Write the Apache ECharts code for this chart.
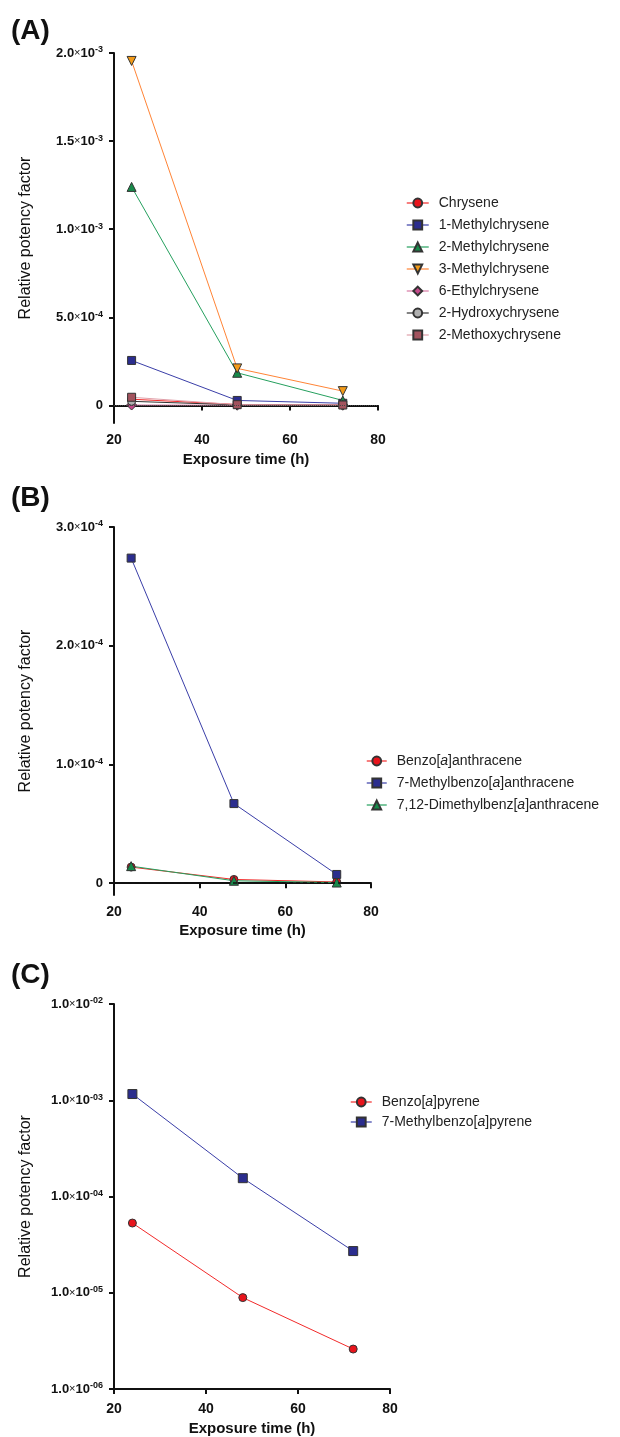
<!DOCTYPE html>
<html>
<head>
<meta charset="utf-8">
<title>Relative potency factor</title>
<script src="https://cdn.jsdelivr.net/npm/echarts@6/dist/echarts.min.js"></script>
<style>
    html, body {margin: 0; padding: 0; background: #fff;}
    #main_echarts {width: 620px; height: 1437px;}
</style>
</head>
<body>
<div id="main_echarts"></div>
<script>
// exposure times (h), shared by all panels
var hours = [24, 48, 72];

// (A) chrysenes
var namesA = ['Chrysene', '1-Methylchrysene', '2-Methylchrysene', '3-Methylchrysene',
    '6-Ethylchrysene', '2-Hydroxychrysene', '2-Methoxychrysene'];
var chrysene = [3.5e-5, 5e-6, 2e-6];
var methyl1Chrysene = [2.55e-4, 2.8e-5, 1.2e-5];
var methyl2Chrysene = [1.24e-3, 1.85e-4, 2.8e-5];
var methyl3Chrysene = [1.955e-3, 2.1e-4, 8.1e-5];
var ethyl6Chrysene = [2e-6, 1e-6, 1e-6];
var hydroxy2Chrysene = [2.3e-5, 3e-6, 1e-6];
var methoxy2Chrysene = [4.6e-5, 4e-6, 2e-6];
var yTicksA = [0, 5e-4, 1e-3, 1.5e-3, 2e-3];

// (B) benz[a]anthracenes
var namesB = ['Benzo[a]anthracene', '7-Methylbenzo[a]anthracene', '7,12-Dimethylbenz[a]anthracene'];
var benzAnthracene = [1.35e-5, 3.1e-6, 1e-6];
var methyl7BenzAnthracene = [2.738e-4, 6.7e-5, 7.3e-6];
var dimethylBenzAnthracene = [1.43e-5, 2e-6, 5e-7];
var yTicksB = [0, 1e-4, 2e-4, 3e-4];

// (C) benzo[a]pyrenes, log scale
var namesC = ['Benzo[a]pyrene', '7-Methylbenzo[a]pyrene'];
var benzoPyrene = [5.3e-5, 8.9e-6, 2.6e-6];
var methyl7BenzoPyrene = [1.16e-3, 1.55e-4, 2.71e-5];

var xTicks = [20, 40, 60, 80];

var FONT = "'Liberation Sans', Arial, Helvetica, sans-serif";

// line colours, looked up by series name
var strokes = {
    'Chrysene': '#f22a2a', '1-Methylchrysene': '#3a3ea8', '2-Methylchrysene': '#25a05e',
    '3-Methylchrysene': '#ff8436', '6-Ethylchrysene': '#d87aa6', '2-Hydroxychrysene': '#333333',
    '2-Methoxychrysene': '#e0a0aa',
    'Benzo[a]anthracene': '#f22a2a', '7-Methylbenzo[a]anthracene': '#3a3ea8',
    '7,12-Dimethylbenz[a]anthracene': '#25a05e',
    'Benzo[a]pyrene': '#f22a2a', '7-Methylbenzo[a]pyrene': '#3a3ea8'
};

function pairs(vals) {
    var out = [];
    for (var i = 0; i < hours.length; i++) {
        out.push([hours[i], vals[i]]);
    }
    return out;
}

// 2.0x10^-3 style labels
function sciLabel(v, pad) {
    if (v === 0) return '{m|0}';
    var e = Math.floor(Math.log10(v) + 1e-9);
    var m = (v / Math.pow(10, e)).toFixed(1);
    var es = String(Math.abs(e));
    if (pad && es.length < 2) es = '0' + es;
    return '{m|' + m + '}{x|\u00d7}{m|10}{s|-' + es + '}';
}

var labelRich = {
    m: {fontFamily: FONT, fontSize: 13, fontWeight: 'bold', color: '#111'},
    x: {fontFamily: FONT, fontSize: 11, fontWeight: 'normal', color: '#111'},
    s: {fontFamily: FONT, fontSize: 9, fontWeight: 'bold', color: '#111', verticalAlign: 'top', padding: [0, 0, 6, 0]}
};

function italicName(name) {
    return name.replace('[a]', '[{i|a}]');
}

function legendData(names) {
    return names.map(function (n) {
        return {name: n, lineStyle: {color: strokes[n], width: 1.5, opacity: 0.8}};
    });
}

var axisLineStyle = {show: true, lineStyle: {color: '#111', width: 2}};
var axisTickStyle = {show: true, length: 5, inside: false, lineStyle: {color: '#111', width: 2}};

function xAxisFor(grid, gap, margin) {
    return {
        type: 'value', gridIndex: grid, min: 20, max: 80, interval: 20,
        name: 'Exposure time (h)', nameLocation: 'middle', nameGap: gap,
        nameTextStyle: {fontFamily: FONT, fontSize: 15, fontWeight: 'bold', color: '#111'},
        axisLine: axisLineStyle, axisTick: axisTickStyle, splitLine: {show: false},
        axisLabel: {fontFamily: FONT, fontSize: 14, fontWeight: 'bold', color: '#111', margin: margin,
            customValues: xTicks},
    };
}

var yName = {fontFamily: FONT, fontSize: 16, color: '#111'};

function line(name, vals, xi, sym, size, fill, extra) {
    var s = {
        name: name, type: 'line', xAxisIndex: xi, yAxisIndex: xi,
        data: pairs(vals), symbol: sym, symbolSize: size,
        lineStyle: {color: strokes[name], width: 1},
        itemStyle: {color: fill, borderColor: '#333', borderWidth: 1},
        emphasis: {disabled: true},
        animation: false
    };
    if (extra) {
        for (var k in extra) s[k] = extra[k];
    }
    return s;
}

var myChart = echarts.init(document.getElementById('main_echarts'), null, {renderer: 'canvas'});

var legendText = {fontFamily: FONT, fontSize: 14, color: '#222', padding: [0, 0, 0, 5],
    rich: {i: {fontFamily: FONT, fontSize: 14, fontStyle: 'italic', color: '#222'}}};

var option = {
    backgroundColor: '#fff',
    animation: false,
    graphic: [
        {type: 'text', left: 11, top: 17, style: {text: '(A)', font: 'bold 28px ' + FONT, fill: '#111'}},
        {type: 'text', left: 11, top: 484, style: {text: '(B)', font: 'bold 28px ' + FONT, fill: '#111'}},
        {type: 'text', left: 11, top: 961, style: {text: '(C)', font: 'bold 28px ' + FONT, fill: '#111'}}
    ],
    legend: [
        {data: legendData(namesA), orient: 'vertical', left: 401, top: 191, itemWidth: 22, itemHeight: 11, itemGap: 8,
            textStyle: legendText, formatter: italicName},
        {data: legendData(namesB), orient: 'vertical', left: 361, top: 749, itemWidth: 20, itemHeight: 11, itemGap: 8,
            textStyle: legendText, formatter: italicName},
        {data: legendData(namesC), orient: 'vertical', left: 345, top: 1090, itemWidth: 21, itemHeight: 11, itemGap: 6,
            textStyle: legendText, formatter: italicName}
    ],
    grid: [
        {left: 114, top: 53, width: 264, height: 370},
        {left: 114, top: 527, width: 257, height: 368},
        {left: 114, top: 1004, width: 276, height: 385}
    ],
    xAxis: [xAxisFor(0, 29, 10), xAxisFor(1, 28, 10), xAxisFor(2, 32, 13)],
    yAxis: [
        {
            type: 'value', gridIndex: 0, min: -1e-4, max: 2e-3,
            name: 'Relative potency factor', nameLocation: 'middle', nameGap: 80, nameTextStyle: yName,
            axisLine: axisLineStyle, splitLine: {show: false},
            axisTick: {show: true, length: 5, lineStyle: {color: '#111', width: 2}, customValues: yTicksA},
            axisLabel: {margin: 11, customValues: yTicksA, rich: labelRich,
                formatter: function (v) { return sciLabel(v, false); }}
        },
        {
            type: 'value', gridIndex: 1, min: -1e-5, max: 3e-4,
            name: 'Relative potency factor', nameLocation: 'middle', nameGap: 80, nameTextStyle: yName,
            axisLine: axisLineStyle, splitLine: {show: false},
            axisTick: {show: true, length: 5, lineStyle: {color: '#111', width: 2}, customValues: yTicksB},
            axisLabel: {margin: 11, customValues: yTicksB, rich: labelRich,
                formatter: function (v) { return sciLabel(v, false); }}
        },
        {
            type: 'log', logBase: 10, gridIndex: 2, min: 1e-6, max: 1e-2,
            name: 'Relative potency factor', nameLocation: 'middle', nameGap: 80, nameTextStyle: yName,
            axisLine: axisLineStyle, splitLine: {show: false}, minorTick: {show: false},
            axisTick: {show: true, length: 5, lineStyle: {color: '#111', width: 2}},
            axisLabel: {margin: 11, rich: labelRich,
                formatter: function (v) { return sciLabel(v, true); }}
        }
    ],
    series: [
        line(namesA[0], chrysene, 0, 'circle', 8, '#e8141c', {
            markLine: {
                silent: true, symbol: ['none', 'none'], label: {show: false}, animation: false,
                lineStyle: {type: 'dotted', color: '#444', width: 1},
                data: [{yAxis: 0}]
            }
        }),
        line(namesA[1], methyl1Chrysene, 0, 'rect', 8, '#2b2d8e'),
        line(namesA[2], methyl2Chrysene, 0, 'triangle', 9, '#178a4a'),
        line(namesA[3], methyl3Chrysene, 0, 'triangle', 9, '#f29a18', {symbolRotate: 180}),
        line(namesA[4], ethyl6Chrysene, 0, 'diamond', 10, '#c44a8a'),
        line(namesA[5], hydroxy2Chrysene, 0, 'circle', 8, '#b0b0b0'),
        line(namesA[6], methoxy2Chrysene, 0, 'rect', 8, '#a3535e'),

        line(namesB[0], benzAnthracene, 1, 'circle', 8, '#e8141c', {
            markLine: {
                silent: true, symbol: ['none', 'none'], label: {show: false}, animation: false,
                lineStyle: {type: [4, 3], color: '#111', width: 1.5},
                data: [{yAxis: 0}]
            }
        }),
        line(namesB[1], methyl7BenzAnthracene, 1, 'rect', 8, '#2b2d8e'),
        line(namesB[2], dimethylBenzAnthracene, 1, 'triangle', 9, '#178a4a'),

        line(namesC[0], benzoPyrene, 2, 'circle', 8, '#e8141c'),
        line(namesC[1], methyl7BenzoPyrene, 2, 'rect', 9, '#2b2d8e')
    ]
};
myChart.setOption(option);
</script>
</body>
</html>
